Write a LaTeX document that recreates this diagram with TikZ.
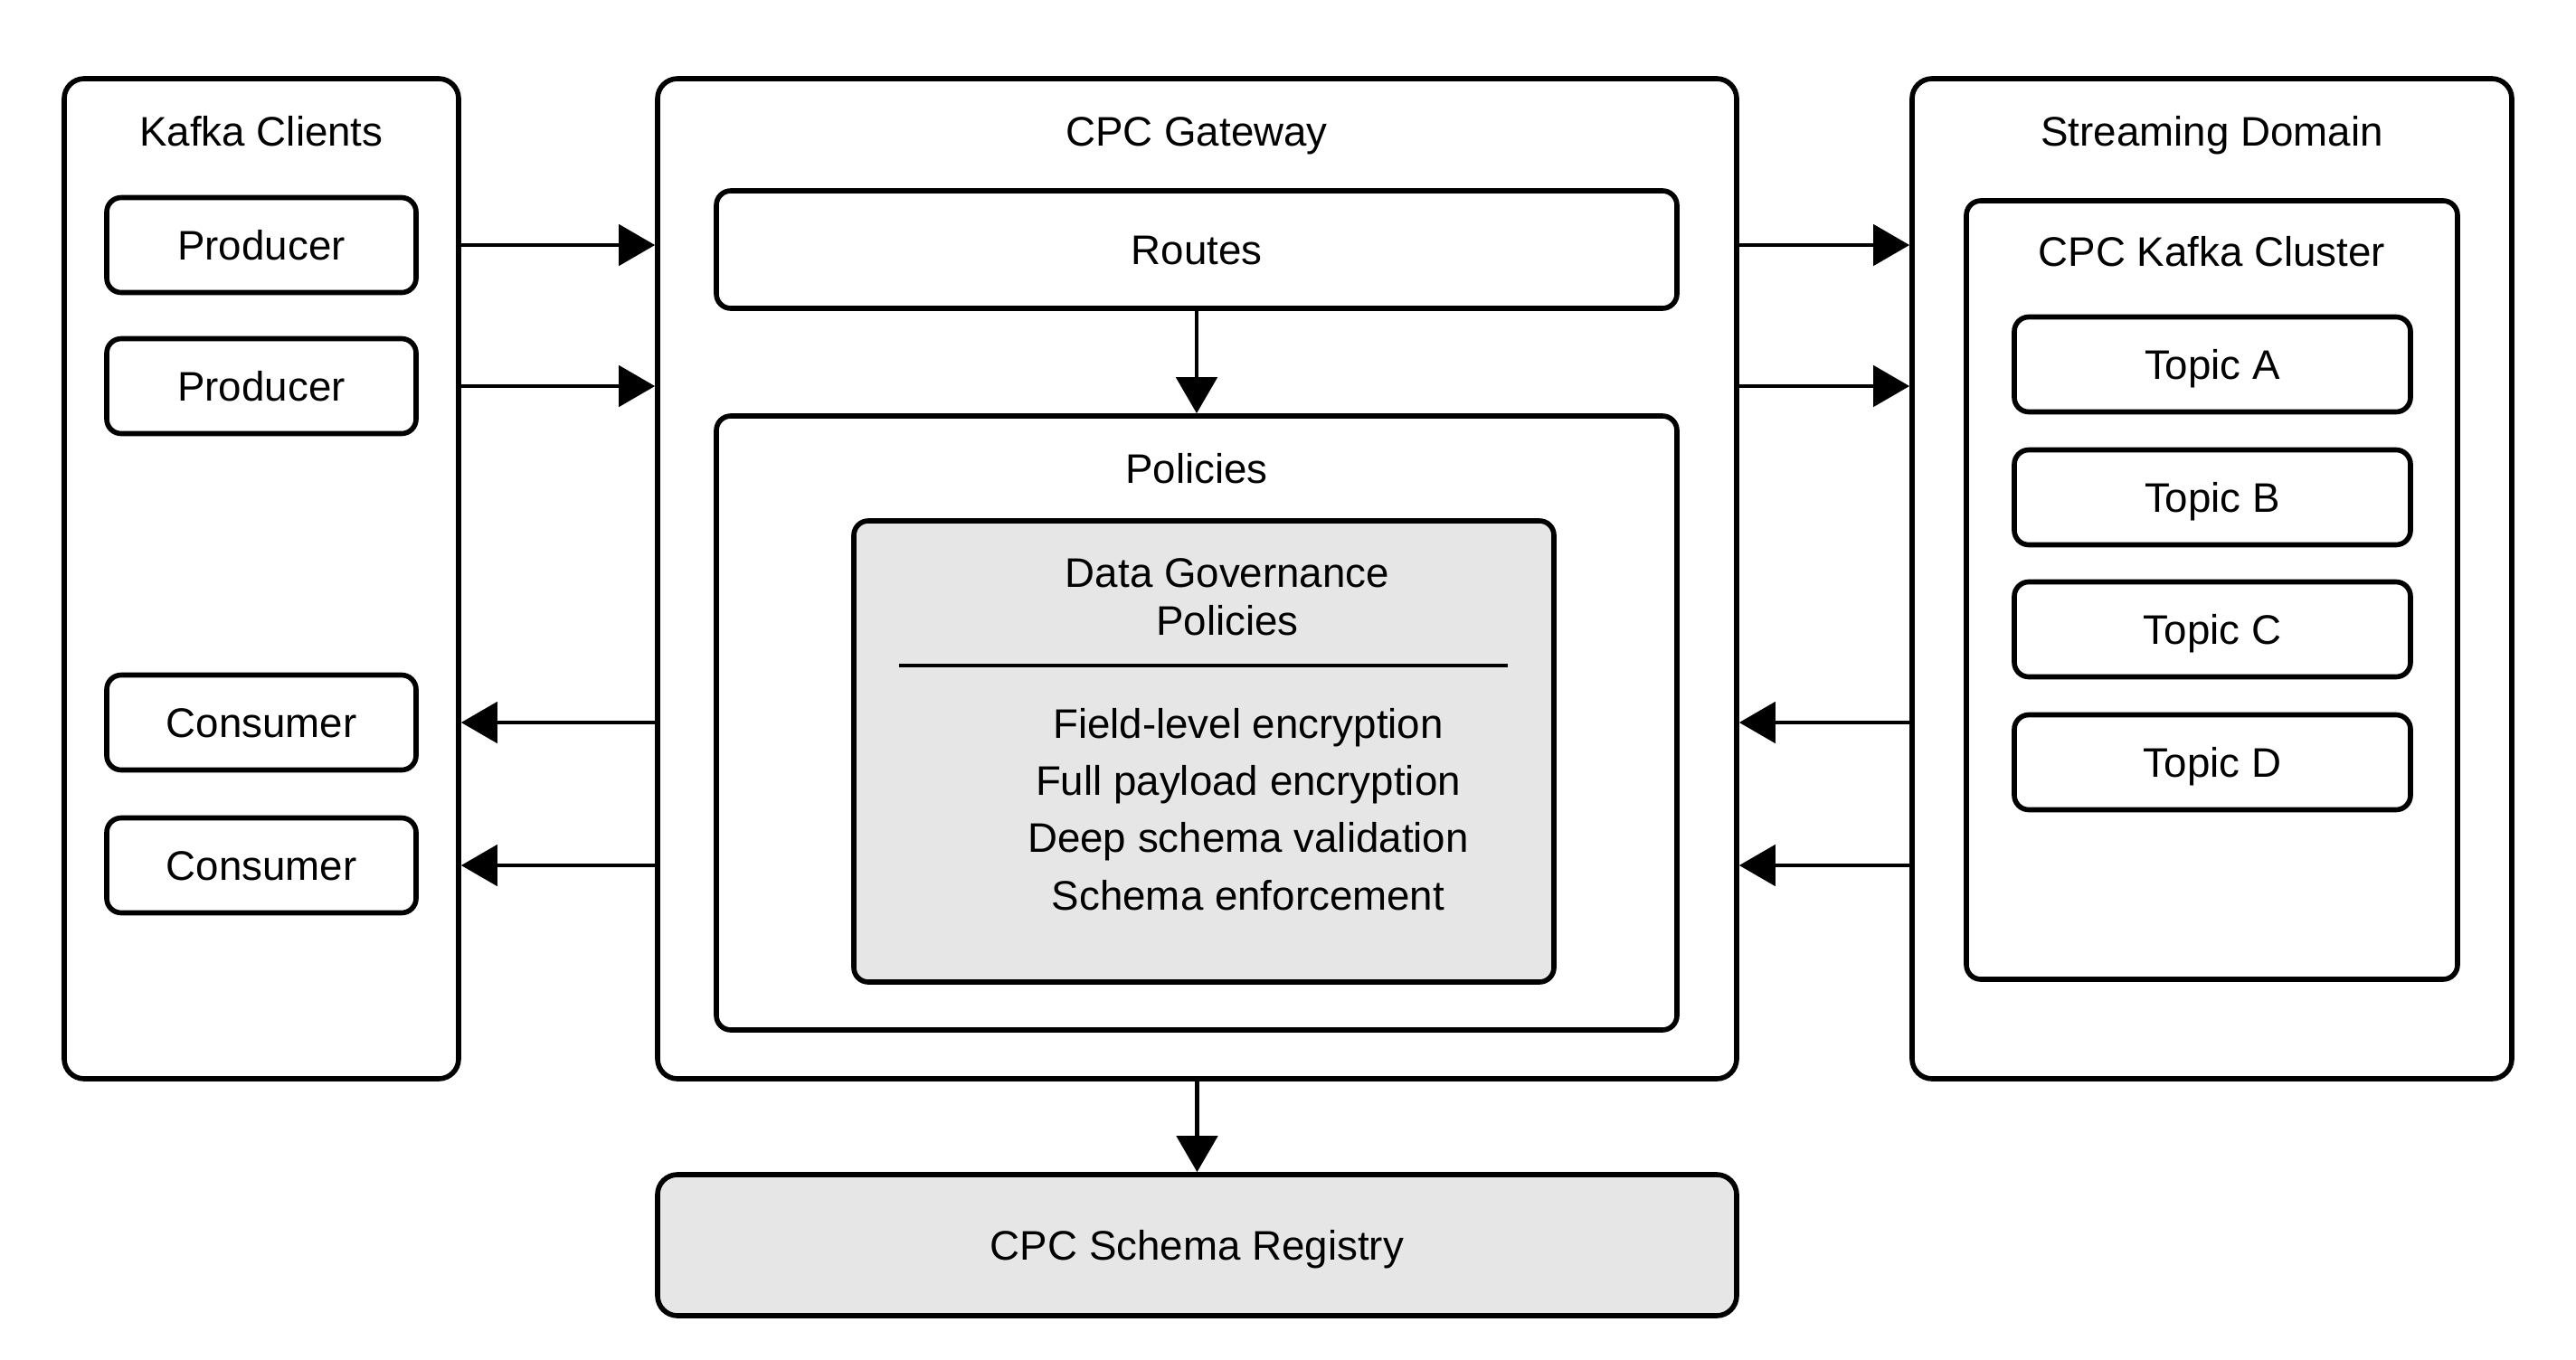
\documentclass[tikz,border=0pt]{standalone}
\usepackage{fontspec}
\setmainfont{Liberation Sans}
\usetikzlibrary{arrows.meta,positioning}
\definecolor{boxgray}{RGB}{230,230,230}

\tikzset{
    outer/.style={draw, line width=1.6pt, rounded corners=0.22cm},
    inner/.style={draw, line width=1.6pt, rounded corners=0.16cm},
    caption/.style={text height=0.33cm, text depth=0cm},
    item/.style={inner, caption, minimum width=#1, minimum height=1.05cm},
    shaded/.style={fill=boxgray},
    flow/.style={line width=1.4pt, -{Triangle[length=0.4cm, width=0.45cm]}},
}

\begin{document}
\begin{tikzpicture}[font=\fontsize{13}{16}\selectfont]
    \useasboundingbox (0,0) rectangle (28.48,-15.04);

    % Containers
    \node[outer, minimum width=4.36cm, minimum height=11.06cm] (clients) at (2.89,-6.40) {};
    \node[outer, minimum width=11.93cm, minimum height=11.06cm] (gateway) at (13.235,-6.40) {};
    \node[outer, minimum width=6.63cm, minimum height=11.06cm] (domain) at (24.455,-6.40) {};
    \node[caption] (clientsT) at (2.89,-1.45) {Kafka Clients};
    \node[caption] (gatewayT) at (13.23,-1.45) {CPC Gateway};
    \node[caption] (domainT) at (24.455,-1.45) {Streaming Domain};

    % Clients
    \node[item=3.42cm] (prod1) at (2.89,-2.71) {Producer};
    \node[item=3.42cm] (prod2) at (2.89,-4.27) {Producer};
    \node[item=3.42cm] (cons1) at (2.89,-7.99) {Consumer};
    \node[item=3.42cm] (cons2) at (2.89,-9.57) {Consumer};

    % Gateway
    \node[inner, caption, minimum width=10.62cm, minimum height=1.30cm] (routes) at (13.23,-2.76) {Routes};
    \node[inner, minimum width=10.62cm, minimum height=6.79cm] (policies) at (13.23,-7.995) {};
    \node[caption] (policiesT) at (13.23,-5.18) {Policies};
    \node[inner, shaded, minimum width=7.74cm, minimum height=5.10cm] (dg) at (13.31,-8.31) {};
    \node[align=center, font=\fontsize{13}{15}\selectfont] (dgT) at (13.57,-6.60) {Data Governance\\Policies};
    \draw[line width=1.4pt] (9.94,-7.36) -- (16.67,-7.36);
    \node[align=center, font=\fontsize{13}{18}\selectfont] (dgL) at (13.80,-8.95)
        {Field-level encryption\\Full payload encryption\\Deep schema validation\\Schema enforcement};

    % Streaming domain
    \node[inner, minimum width=5.43cm, minimum height=8.61cm] (cluster) at (24.455,-6.525) {};
    \node[caption] (clusterT) at (24.455,-2.78) {CPC Kafka Cluster};
    \node[item=4.38cm] (topicA) at (24.46,-4.03) {Topic A};
    \node[item=4.38cm] (topicB) at (24.46,-5.50) {Topic B};
    \node[item=4.38cm] (topicC) at (24.46,-6.96) {Topic C};
    \node[item=4.38cm] (topicD) at (24.46,-8.43) {Topic D};

    % Registry
    \node[outer, shaded, caption, minimum width=11.93cm, minimum height=1.56cm] (registry) at (13.235,-13.77) {CPC Schema Registry};

    % Horizontal arrows
    \foreach \p in {prod1,prod2} {
        \draw[flow] (\p -| clients.east) -- (\p -| gateway.west);
        \draw[flow] (\p -| gateway.east) -- (\p -| domain.west);
    }
    \foreach \c in {cons1,cons2} {
        \draw[flow] (\c -| gateway.west) -- (\c -| clients.east);
        \draw[flow] (\c -| domain.west) -- (\c -| gateway.east);
    }

    % Vertical arrows
    \draw[flow] (routes) -- (policies);
    \draw[flow] (gateway) -- (registry);
\end{tikzpicture}
\end{document}
